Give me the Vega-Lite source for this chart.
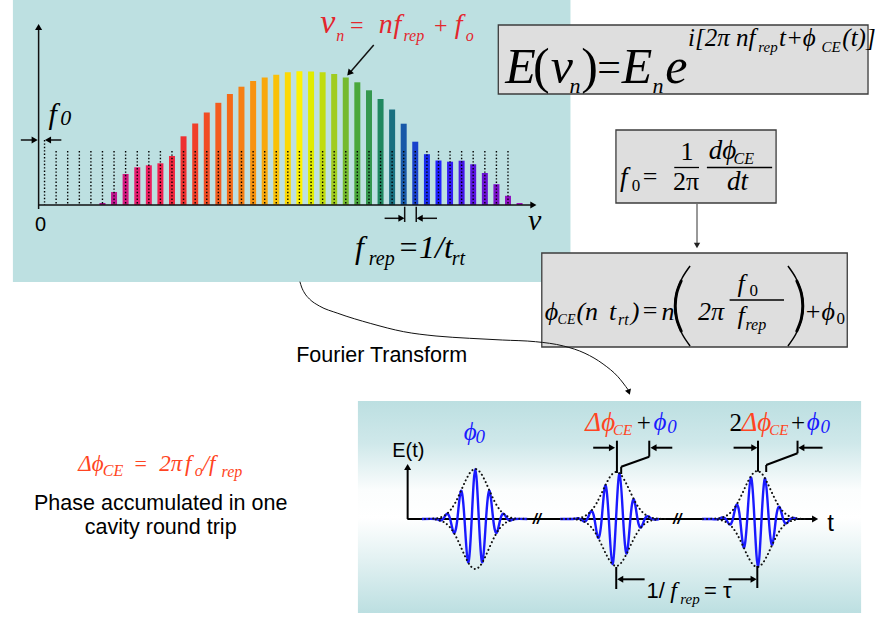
{
  "$schema": "https://vega.github.io/schema/vega-lite/v6.json",
  "width": 875,
  "height": 620,
  "autosize": {"type": "none"},
  "padding": 0,
  "background": "#ffffff",
  "config": {"view": {"stroke": null}},
  "encoding": {
    "x": {"field": "x", "type": "quantitative", "scale": {"domain": [0, 875], "nice": false, "zero": false}, "axis": null},
    "y": {"field": "y", "type": "quantitative", "scale": {"domain": [0, 620], "reverse": true, "nice": false, "zero": false}, "axis": null}
  },
  "layer": [
    {
      "data": {"values": [{"x": 8, "x2": 572, "y": 0, "y2": 282}]},
      "mark": {"type": "rect", "fill": "#bde0e1"},
      "encoding": {"x2": {"field": "x2"}, "y2": {"field": "y2"}}
    },
    {
      "data": {"values": [{"x": 357, "x2": 866, "y": 401, "y2": 613}]},
      "mark": {"type": "rect", "fill": {"gradient": "linear", "x1": 0, "y1": 0, "x2": 0, "y2": 1, "stops": [
        {"offset": 0, "color": "#bcdfe1"},
        {"offset": 0.2, "color": "#cfe8ea"},
        {"offset": 0.42, "color": "#fbfdfd"},
        {"offset": 0.55, "color": "#ffffff"},
        {"offset": 0.75, "color": "#e2f1f2"},
        {"offset": 1, "color": "#bcdfe1"}
      ]}},
      "encoding": {"x2": {"field": "x2"}, "y2": {"field": "y2"}}
    },
    {
      "data": {"values": [
        {"x": 499, "x2": 873, "y": 25, "y2": 94},
        {"x": 618, "x2": 780, "y": 130, "y2": 203},
        {"x": 543, "x2": 852, "y": 253, "y2": 347}
      ]},
      "mark": {"type": "rect", "fill": "#dedede", "stroke": "#3c3c3c", "strokeWidth": 1.3},
      "encoding": {"x2": {"field": "x2"}, "y2": {"field": "y2"}}
    },
    {
      "data": {"values": [
        {"x": 298.3, "y": 281.7}, {"x": 300, "y": 287}, {"x": 303, "y": 293}, {"x": 308, "y": 299},
        {"x": 318, "y": 306}, {"x": 336.7, "y": 313.3}, {"x": 370, "y": 323.5}, {"x": 403.3, "y": 331.7},
        {"x": 436, "y": 336}, {"x": 470, "y": 338.3}, {"x": 503, "y": 340}, {"x": 536.7, "y": 341.7},
        {"x": 565, "y": 346}, {"x": 586.7, "y": 353.3}, {"x": 605, "y": 364}, {"x": 620, "y": 376.7},
        {"x": 630.5, "y": 390}
      ]},
      "mark": {"type": "line", "interpolate": "monotone", "color": "#111111", "strokeWidth": 1},
      "encoding": {}
    },
    {
      "data": {"values": [
        {"n": 5, "x": 98.6, "y": 203}, {"n": 6, "x": 110.3, "y": 192}, {"n": 7, "x": 122, "y": 174},
        {"n": 8, "x": 133.8, "y": 167.3}, {"n": 9, "x": 145.5, "y": 165.3}, {"n": 10, "x": 157.2, "y": 163.3},
        {"n": 11, "x": 168.9, "y": 156}, {"n": 12, "x": 180.6, "y": 136.3}, {"n": 13, "x": 192.4, "y": 123.5},
        {"n": 14, "x": 204.1, "y": 112.5}, {"n": 15, "x": 215.8, "y": 102.8}, {"n": 16, "x": 227.5, "y": 94},
        {"n": 17, "x": 239.2, "y": 86.7}, {"n": 18, "x": 251, "y": 81}, {"n": 19, "x": 262.7, "y": 77.5},
        {"n": 20, "x": 274.4, "y": 74.7}, {"n": 21, "x": 286.1, "y": 72.3}, {"n": 22, "x": 297.8, "y": 71.3},
        {"n": 23, "x": 309.6, "y": 71.5}, {"n": 24, "x": 321.3, "y": 72.3}, {"n": 25, "x": 333, "y": 74},
        {"n": 26, "x": 344.7, "y": 77.5}, {"n": 27, "x": 356.4, "y": 82.3}, {"n": 28, "x": 368.2, "y": 90.3},
        {"n": 29, "x": 379.9, "y": 99}, {"n": 30, "x": 391.6, "y": 109.5}, {"n": 31, "x": 403.3, "y": 123.7},
        {"n": 32, "x": 415, "y": 141.7}, {"n": 33, "x": 426.8, "y": 154.2}, {"n": 34, "x": 438.5, "y": 160.5},
        {"n": 35, "x": 450.2, "y": 161.7}, {"n": 36, "x": 461.9, "y": 160.7}, {"n": 37, "x": 473.6, "y": 164.3},
        {"n": 38, "x": 485.4, "y": 173}, {"n": 39, "x": 497.1, "y": 184.2}, {"n": 40, "x": 508.8, "y": 195.8},
        {"n": 41, "x": 520.5, "y": 203}
      ]},
      "mark": {"type": "bar", "size": 6},
      "encoding": {
        "y2": {"datum": 205},
        "color": {"field": "n", "type": "quantitative", "legend": null, "scale": {
          "domain": [5, 6, 8, 10, 12, 16, 19, 22, 23, 25, 27, 29, 30, 31, 33, 34, 37, 41],
          "range": ["#a8108c", "#c0168f", "#e81c70", "#f02050", "#ee3030", "#f46a18", "#f8a80c", "#fff200", "#e0ec00", "#a0cc20", "#4aa83c", "#208860", "#1a7080", "#1858a8", "#1a2cf0", "#2020ff", "#5a14e0", "#a010b8"],
          "interpolate": "rgb"
        }}
      }
    },
    {
      "data": {"values": [
        {"x": 40, "y": 140}, {"x": 51.7, "y": 151}, {"x": 63.4, "y": 151}, {"x": 75.2, "y": 151}, {"x": 86.9, "y": 151},
        {"x": 98.6, "y": 151}, {"x": 110.3, "y": 151}, {"x": 122, "y": 151}, {"x": 133.8, "y": 151}, {"x": 145.5, "y": 151},
        {"x": 157.2, "y": 151}, {"x": 168.9, "y": 151}, {"x": 180.6, "y": 151}, {"x": 192.4, "y": 151}, {"x": 204.1, "y": 151},
        {"x": 215.8, "y": 151}, {"x": 227.5, "y": 151}, {"x": 239.2, "y": 151}, {"x": 251, "y": 151}, {"x": 262.7, "y": 151},
        {"x": 274.4, "y": 151}, {"x": 286.1, "y": 151}, {"x": 297.8, "y": 151}, {"x": 309.6, "y": 151}, {"x": 321.3, "y": 151},
        {"x": 333, "y": 151}, {"x": 344.7, "y": 151}, {"x": 356.4, "y": 151}, {"x": 368.2, "y": 151}, {"x": 379.9, "y": 151},
        {"x": 391.6, "y": 151}, {"x": 403.3, "y": 151}, {"x": 415, "y": 151}, {"x": 426.8, "y": 151}, {"x": 438.5, "y": 151},
        {"x": 450.2, "y": 151}, {"x": 461.9, "y": 151}, {"x": 473.6, "y": 151}, {"x": 485.4, "y": 151}, {"x": 497.1, "y": 151},
        {"x": 508.8, "y": 151}
      ]},
      "mark": {"type": "rule", "color": "#000000", "strokeWidth": 1.4, "strokeDash": [1.4, 2]},
      "encoding": {"y2": {"datum": 205}}
    },
    {
      "data": {"values": [
        {"x": 34, "y": 209, "x2": 34, "y2": 30},
        {"x": 34, "y": 205, "x2": 533, "y2": 205},
        {"x": 16, "y": 140, "x2": 29, "y2": 140},
        {"x": 57, "y": 140, "x2": 44, "y2": 140},
        {"x": 384, "y": 218.3, "x2": 400, "y2": 218.3},
        {"x": 437, "y": 218.3, "x2": 420, "y2": 218.3},
        {"x": 404.3, "y": 206.7, "x2": 404.3, "y2": 222},
        {"x": 416, "y": 206.7, "x2": 416, "y2": 222},
        {"x": 373, "y": 45, "x2": 349, "y2": 72.4}
      ]},
      "mark": {"type": "rule", "color": "#111111", "strokeWidth": 1.5},
      "encoding": {"x2": {"field": "x2"}, "y2": {"field": "y2"}}
    },
    {
      "data": {"values": [{"x": 700, "y": 204, "x2": 700, "y2": 244}]},
      "mark": {"type": "rule", "color": "#333333", "strokeWidth": 1},
      "encoding": {"x2": {"field": "x2"}, "y2": {"field": "y2"}}
    },
    {
      "data": {"values": [
        {"x": 407.3, "y": 519, "x2": 407.3, "y2": 470},
        {"x": 407, "y": 519, "x2": 818, "y2": 519}
      ]},
      "mark": {"type": "rule", "color": "#000000", "strokeWidth": 2},
      "encoding": {"x2": {"field": "x2"}, "y2": {"field": "y2"}}
    },
    {
      "data": {"values": [
        {"p": 1, "x": 421.7, "y": 519}, {"p": 1, "x": 435.8, "y": 519}, {"p": 1, "x": 439.45, "y": 520.4}, {"p": 1, "x": 443.1, "y": 519},
        {"p": 1, "x": 446.7, "y": 514}, {"p": 1, "x": 450.3, "y": 519}, {"p": 1, "x": 453.95, "y": 532.7}, {"p": 1, "x": 457.6, "y": 519},
        {"p": 1, "x": 461.2, "y": 490.9}, {"p": 1, "x": 464.8, "y": 519}, {"p": 1, "x": 468.45, "y": 562.3}, {"p": 1, "x": 472.1, "y": 519},
        {"p": 1, "x": 475.7, "y": 469}, {"p": 1, "x": 479.3, "y": 519}, {"p": 1, "x": 482.95, "y": 562.3}, {"p": 1, "x": 486.6, "y": 519},
        {"p": 1, "x": 490.2, "y": 490.9}, {"p": 1, "x": 493.8, "y": 519}, {"p": 1, "x": 497.45, "y": 532.7}, {"p": 1, "x": 501.1, "y": 519},
        {"p": 1, "x": 504.7, "y": 514}, {"p": 1, "x": 508.3, "y": 519}, {"p": 1, "x": 511.95, "y": 520.4}, {"p": 1, "x": 515.6, "y": 519},
        {"p": 1, "x": 528.3, "y": 519},
        {"p": 2, "x": 561.7, "y": 519}, {"p": 2, "x": 574.6, "y": 519}, {"p": 2, "x": 578.2, "y": 518.4}, {"p": 2, "x": 581.8, "y": 519},
        {"p": 2, "x": 585.45, "y": 521.4}, {"p": 2, "x": 589.1, "y": 519}, {"p": 2, "x": 592.7, "y": 511.2}, {"p": 2, "x": 596.3, "y": 519},
        {"p": 2, "x": 599.95, "y": 537.7}, {"p": 2, "x": 603.6, "y": 519}, {"p": 2, "x": 607.2, "y": 485.5}, {"p": 2, "x": 610.8, "y": 519},
        {"p": 2, "x": 614.45, "y": 564.1}, {"p": 2, "x": 618.1, "y": 519}, {"p": 2, "x": 621.7, "y": 473.5}, {"p": 2, "x": 625.3, "y": 519},
        {"p": 2, "x": 628.95, "y": 553.4}, {"p": 2, "x": 632.6, "y": 519}, {"p": 2, "x": 636.2, "y": 499.5}, {"p": 2, "x": 639.8, "y": 519},
        {"p": 2, "x": 643.45, "y": 527.3}, {"p": 2, "x": 647.1, "y": 519}, {"p": 2, "x": 650.7, "y": 516.4}, {"p": 2, "x": 654.3, "y": 519},
        {"p": 2, "x": 657.95, "y": 519.6}, {"p": 2, "x": 661.6, "y": 519},
        {"p": 3, "x": 705, "y": 519}, {"p": 3, "x": 714.6, "y": 519}, {"p": 3, "x": 718.2, "y": 519.3}, {"p": 3, "x": 721.8, "y": 519},
        {"p": 3, "x": 725.45, "y": 517.5}, {"p": 3, "x": 729.1, "y": 519}, {"p": 3, "x": 732.7, "y": 524.3}, {"p": 3, "x": 736.3, "y": 519},
        {"p": 3, "x": 739.95, "y": 504.8}, {"p": 3, "x": 743.6, "y": 519}, {"p": 3, "x": 747.2, "y": 547.5}, {"p": 3, "x": 750.8, "y": 519},
        {"p": 3, "x": 754.45, "y": 477.5}, {"p": 3, "x": 758.1, "y": 519}, {"p": 3, "x": 761.7, "y": 566.9}, {"p": 3, "x": 765.3, "y": 519},
        {"p": 3, "x": 768.95, "y": 478.6}, {"p": 3, "x": 772.6, "y": 519}, {"p": 3, "x": 776.2, "y": 544.5}, {"p": 3, "x": 779.8, "y": 519},
        {"p": 3, "x": 783.45, "y": 507}, {"p": 3, "x": 787.1, "y": 519}, {"p": 3, "x": 790.7, "y": 523.3}, {"p": 3, "x": 794.3, "y": 519},
        {"p": 3, "x": 797.95, "y": 517.9}, {"p": 3, "x": 801.6, "y": 519}
      ]},
      "mark": {"type": "line", "interpolate": "natural", "color": "#1a1aff", "strokeWidth": 2.4},
      "encoding": {"detail": {"field": "p"}}
    },
    {
      "data": {"values": [
        {"s": "1u", "x": 420.7, "y": 519}, {"s": "1u", "x": 435.7, "y": 518.4}, {"s": "1u", "x": 440.7, "y": 517.3}, {"s": "1u", "x": 445.7, "y": 514.8},
        {"s": "1u", "x": 450.7, "y": 510}, {"s": "1u", "x": 455.7, "y": 502.3}, {"s": "1u", "x": 460.7, "y": 492}, {"s": "1u", "x": 465.7, "y": 481},
        {"s": "1u", "x": 470.7, "y": 472.3}, {"s": "1u", "x": 475.7, "y": 469}, {"s": "1u", "x": 480.7, "y": 472.3}, {"s": "1u", "x": 485.7, "y": 481},
        {"s": "1u", "x": 490.7, "y": 492}, {"s": "1u", "x": 495.7, "y": 502.3}, {"s": "1u", "x": 500.7, "y": 510}, {"s": "1u", "x": 505.7, "y": 514.8},
        {"s": "1u", "x": 510.7, "y": 517.3}, {"s": "1u", "x": 515.7, "y": 518.4}, {"s": "1u", "x": 530.7, "y": 519},
        {"s": "1l", "x": 435.7, "y": 519.6}, {"s": "1l", "x": 440.7, "y": 520.7}, {"s": "1l", "x": 445.7, "y": 523.2},
        {"s": "1l", "x": 450.7, "y": 528}, {"s": "1l", "x": 455.7, "y": 535.7}, {"s": "1l", "x": 460.7, "y": 546}, {"s": "1l", "x": 465.7, "y": 557},
        {"s": "1l", "x": 470.7, "y": 565.7}, {"s": "1l", "x": 475.7, "y": 569}, {"s": "1l", "x": 480.7, "y": 565.7}, {"s": "1l", "x": 485.7, "y": 557},
        {"s": "1l", "x": 490.7, "y": 546}, {"s": "1l", "x": 495.7, "y": 535.7}, {"s": "1l", "x": 500.7, "y": 528}, {"s": "1l", "x": 505.7, "y": 523.2},
        {"s": "1l", "x": 510.7, "y": 520.7}, {"s": "1l", "x": 515.7, "y": 519.6},
        {"s": "2u", "x": 563.3, "y": 519}, {"s": "2u", "x": 578.3, "y": 518.4}, {"s": "2u", "x": 583.3, "y": 517.4}, {"s": "2u", "x": 588.3, "y": 515},
        {"s": "2u", "x": 593.3, "y": 510.5}, {"s": "2u", "x": 598.3, "y": 503.3}, {"s": "2u", "x": 603.3, "y": 493.6}, {"s": "2u", "x": 608.3, "y": 483.3},
        {"s": "2u", "x": 613.3, "y": 475.1}, {"s": "2u", "x": 618.3, "y": 472}, {"s": "2u", "x": 623.3, "y": 475.1}, {"s": "2u", "x": 628.3, "y": 483.3},
        {"s": "2u", "x": 633.3, "y": 493.6}, {"s": "2u", "x": 638.3, "y": 503.3}, {"s": "2u", "x": 643.3, "y": 510.5}, {"s": "2u", "x": 648.3, "y": 515},
        {"s": "2u", "x": 653.3, "y": 517.4}, {"s": "2u", "x": 658.3, "y": 518.4}, {"s": "2u", "x": 668.3, "y": 519},
        {"s": "2l", "x": 578.3, "y": 519.6}, {"s": "2l", "x": 583.3, "y": 520.6}, {"s": "2l", "x": 588.3, "y": 523},
        {"s": "2l", "x": 593.3, "y": 527.5}, {"s": "2l", "x": 598.3, "y": 534.7}, {"s": "2l", "x": 603.3, "y": 544.4}, {"s": "2l", "x": 608.3, "y": 554.7},
        {"s": "2l", "x": 613.3, "y": 562.9}, {"s": "2l", "x": 618.3, "y": 566}, {"s": "2l", "x": 623.3, "y": 562.9}, {"s": "2l", "x": 628.3, "y": 554.7},
        {"s": "2l", "x": 633.3, "y": 544.4}, {"s": "2l", "x": 638.3, "y": 534.7}, {"s": "2l", "x": 643.3, "y": 527.5}, {"s": "2l", "x": 648.3, "y": 523},
        {"s": "2l", "x": 653.3, "y": 520.6}, {"s": "2l", "x": 658.3, "y": 519.6},
        {"s": "3u", "x": 706, "y": 519}, {"s": "3u", "x": 721, "y": 518.4}, {"s": "3u", "x": 726, "y": 517.3}, {"s": "3u", "x": 731, "y": 514.9},
        {"s": "3u", "x": 736, "y": 510.4}, {"s": "3u", "x": 741, "y": 503}, {"s": "3u", "x": 746, "y": 493.1}, {"s": "3u", "x": 751, "y": 482.5},
        {"s": "3u", "x": 756, "y": 474.2}, {"s": "3u", "x": 761, "y": 471}, {"s": "3u", "x": 766, "y": 474.2}, {"s": "3u", "x": 771, "y": 482.5},
        {"s": "3u", "x": 776, "y": 493.1}, {"s": "3u", "x": 781, "y": 503}, {"s": "3u", "x": 786, "y": 510.4}, {"s": "3u", "x": 791, "y": 514.9},
        {"s": "3u", "x": 796, "y": 517.3}, {"s": "3u", "x": 801, "y": 518.4}, {"s": "3u", "x": 811, "y": 519},
        {"s": "3l", "x": 721, "y": 519.6}, {"s": "3l", "x": 726, "y": 520.7}, {"s": "3l", "x": 731, "y": 523.1},
        {"s": "3l", "x": 736, "y": 527.6}, {"s": "3l", "x": 741, "y": 535}, {"s": "3l", "x": 746, "y": 544.9}, {"s": "3l", "x": 751, "y": 555.5},
        {"s": "3l", "x": 756, "y": 563.8}, {"s": "3l", "x": 761, "y": 567}, {"s": "3l", "x": 766, "y": 563.8}, {"s": "3l", "x": 771, "y": 555.5},
        {"s": "3l", "x": 776, "y": 544.9}, {"s": "3l", "x": 781, "y": 535}, {"s": "3l", "x": 786, "y": 527.6}, {"s": "3l", "x": 791, "y": 523.1},
        {"s": "3l", "x": 796, "y": 520.7}, {"s": "3l", "x": 801, "y": 519.6}
      ]},
      "mark": {"type": "line", "interpolate": "monotone", "color": "#111111", "strokeWidth": 2, "strokeCap": "round", "strokeDash": [0.1, 4]},
      "encoding": {"detail": {"field": "s"}}
    },
    {
      "data": {"values": [
        {"x": 595, "y": 447.7, "x2": 613, "y2": 447.7},
        {"x": 619, "y": 440.7, "x2": 619, "y2": 473},
        {"x": 651.7, "y": 440.7, "x2": 651.7, "y2": 456.7},
        {"x": 651.7, "y": 456.7, "x2": 623.3, "y2": 466.7},
        {"x": 623.3, "y": 466.7, "x2": 623.3, "y2": 474},
        {"x": 675, "y": 447.7, "x2": 657, "y2": 447.7},
        {"x": 737, "y": 447.7, "x2": 757, "y2": 447.7},
        {"x": 761.7, "y": 440.7, "x2": 761.7, "y2": 471.7},
        {"x": 801.7, "y": 440.7, "x2": 801.7, "y2": 453.3},
        {"x": 801.7, "y": 453.3, "x2": 770, "y2": 465},
        {"x": 770, "y": 465, "x2": 770, "y2": 472},
        {"x": 827, "y": 447.7, "x2": 806, "y2": 447.7},
        {"x": 618.3, "y": 567, "x2": 618.3, "y2": 589},
        {"x": 761, "y": 566, "x2": 761, "y2": 588},
        {"x": 647, "y": 579.3, "x2": 623, "y2": 579.3},
        {"x": 732, "y": 579.3, "x2": 756, "y2": 579.3}
      ]},
      "mark": {"type": "rule", "color": "#000000", "strokeWidth": 2},
      "encoding": {"x2": {"field": "x2"}, "y2": {"field": "y2"}}
    },
    {
      "data": {"values": [{"x": 34, "y": 27}, {"x": 407.3, "y": 467}]},
      "mark": {"type": "point", "shape": "triangle-up", "filled": true, "size": 50, "color": "#000000", "opacity": 1},
      "encoding": {}
    },
    {
      "data": {"values": [
        {"x": 534.5, "y": 205}, {"x": 30, "y": 140}, {"x": 401, "y": 218.3}, {"x": 819.5, "y": 519},
        {"x": 614, "y": 447.7}, {"x": 758, "y": 447.7}, {"x": 757.3, "y": 579.3}
      ]},
      "mark": {"type": "point", "shape": "triangle-right", "filled": true, "size": 50, "color": "#000000", "opacity": 1},
      "encoding": {}
    },
    {
      "data": {"values": [
        {"x": 43.5, "y": 140}, {"x": 419.5, "y": 218.3}, {"x": 656, "y": 447.7}, {"x": 805.5, "y": 447.7}, {"x": 622.3, "y": 579.3}
      ]},
      "mark": {"type": "point", "shape": "triangle-left", "filled": true, "size": 50, "color": "#000000", "opacity": 1},
      "encoding": {}
    },
    {
      "data": {"values": [{"x": 700, "y": 245.5}]},
      "mark": {"type": "point", "shape": "triangle-down", "filled": true, "size": 40, "color": "#222222", "opacity": 1},
      "encoding": {}
    },
    {
      "data": {"values": [{"x": 348.9, "y": 72.4}]},
      "mark": {"type": "point", "shape": "triangle", "angle": 221, "filled": true, "size": 50, "color": "#000000", "opacity": 1},
      "encoding": {}
    },
    {
      "data": {"values": [{"x": 630.8, "y": 391.3}]},
      "mark": {"type": "point", "shape": "triangle", "angle": 160, "filled": true, "size": 40, "color": "#000000", "opacity": 1},
      "encoding": {}
    },
    {
      "data": {"values": [{"x": 538, "y": 519, "t": "//"}, {"x": 680, "y": 519, "t": "//"}]},
      "mark": {"type": "text", "font": "Liberation Sans", "fontSize": 15, "fontWeight": "bold", "fontStyle": "italic", "align": "center", "baseline": "middle", "color": "#000000"},
      "encoding": {"text": {"field": "t"}}
    },
    {
      "data": {"values": [
        {"x": 36, "y": 231, "t": "0"},
        {"x": 408, "y": 457, "t": "E(t)"}
      ]},
      "mark": {"type": "text", "font": "Liberation Sans", "fontSize": 20, "align": "center", "baseline": "alphabetic", "color": "#000000"},
      "encoding": {"text": {"field": "t"}}
    },
    {
      "data": {"values": [
        {"x": 381, "y": 362, "t": "Fourier Transform"},
        {"x": 157.5, "y": 510, "t": "Phase accumulated in one"},
        {"x": 157.5, "y": 534, "t": "cavity round trip"}
      ]},
      "mark": {"type": "text", "font": "Liberation Sans", "fontSize": 21.5, "align": "center", "baseline": "alphabetic", "color": "#000000"},
      "encoding": {"text": {"field": "t"}}
    },
    {
      "data": {"values": [{"x": 835, "y": 531, "t": "t"}]},
      "mark": {"type": "text", "font": "Liberation Sans", "fontSize": 24, "align": "center", "baseline": "alphabetic", "color": "#000000"},
      "encoding": {"text": {"field": "t"}}
    },
    {
      "data": {"values": [{"x": 649, "y": 598, "t": "1/"}, {"x": 707, "y": 598, "t": "= τ"}]},
      "mark": {"type": "text", "font": "Liberation Sans", "fontSize": 22, "align": "left", "baseline": "alphabetic", "color": "#000000"},
      "encoding": {"text": {"field": "t"}}
    },
    {
      "data": {"values": [{"x": 673, "y": 598, "t": "f"}]},
      "mark": {"type": "text", "font": "Liberation Serif", "fontSize": 24, "fontStyle": "italic", "align": "left", "baseline": "alphabetic", "color": "#000000"},
      "encoding": {"text": {"field": "t"}}
    },
    {
      "data": {"values": [{"x": 683, "y": 604, "t": "rep"}]},
      "mark": {"type": "text", "font": "Liberation Serif", "fontSize": 15, "fontStyle": "italic", "align": "left", "baseline": "alphabetic", "color": "#000000"},
      "encoding": {"text": {"field": "t"}}
    },
    {
      "data": {"values": [{"x": 44, "y": 124, "t": "f"}, {"x": 529, "y": 230, "t": "ν"}]},
      "mark": {"type": "text", "font": "Liberation Serif", "fontSize": 30, "fontStyle": "italic", "align": "left", "baseline": "alphabetic", "color": "#000000"},
      "encoding": {"text": {"field": "t"}}
    },
    {
      "data": {"values": [{"x": 56, "y": 125, "t": "0"}]},
      "mark": {"type": "text", "font": "Liberation Serif", "fontSize": 22, "fontStyle": "italic", "align": "left", "baseline": "alphabetic", "color": "#000000"},
      "encoding": {"text": {"field": "t"}}
    },
    {
      "data": {"values": [{"x": 354, "y": 258, "t": "f"}, {"x": 397, "y": 258, "t": "=1/t"}]},
      "mark": {"type": "text", "font": "Liberation Serif", "fontSize": 32, "fontStyle": "italic", "align": "left", "baseline": "alphabetic", "color": "#000000"},
      "encoding": {"text": {"field": "t"}}
    },
    {
      "data": {"values": [{"x": 368, "y": 265, "t": "rep"}, {"x": 452, "y": 265, "t": "rt"}]},
      "mark": {"type": "text", "font": "Liberation Serif", "fontSize": 20, "fontStyle": "italic", "align": "left", "baseline": "alphabetic", "color": "#000000"},
      "encoding": {"text": {"field": "t"}}
    },
    {
      "data": {"values": [{"x": 319, "y": 33, "t": "ν"}]},
      "mark": {"type": "text", "font": "Liberation Serif", "fontSize": 34, "fontStyle": "italic", "align": "left", "baseline": "alphabetic", "color": "#e3262d"},
      "encoding": {"text": {"field": "t"}}
    },
    {
      "data": {"values": [{"x": 378, "y": 33, "t": "n"}, {"x": 393, "y": 33, "t": "f"}, {"x": 455, "y": 33, "t": "f"}]},
      "mark": {"type": "text", "font": "Liberation Serif", "fontSize": 28, "fontStyle": "italic", "align": "left", "baseline": "alphabetic", "color": "#e3262d"},
      "encoding": {"text": {"field": "t"}}
    },
    {
      "data": {"values": [{"x": 335, "y": 41, "t": "n"}, {"x": 403, "y": 41, "t": "rep"}, {"x": 466, "y": 41, "t": "o"}]},
      "mark": {"type": "text", "font": "Liberation Serif", "fontSize": 16, "fontStyle": "italic", "align": "left", "baseline": "alphabetic", "color": "#e3262d"},
      "encoding": {"text": {"field": "t"}}
    },
    {
      "data": {"values": [{"x": 349, "y": 33, "t": "="}, {"x": 434, "y": 33, "t": "+"}]},
      "mark": {"type": "text", "font": "Liberation Serif", "fontSize": 24, "align": "left", "baseline": "alphabetic", "color": "#e3262d"},
      "encoding": {"text": {"field": "t"}}
    },
    {
      "data": {"values": [{"x": 74, "y": 471, "t": "Δϕ"}, {"x": 156, "y": 471, "t": "2π"}, {"x": 182, "y": 471, "t": "f"}, {"x": 200, "y": 471, "t": "/f"}]},
      "mark": {"type": "text", "font": "Liberation Serif", "fontSize": 23, "fontStyle": "italic", "align": "left", "baseline": "alphabetic", "color": "#ff4422"},
      "encoding": {"text": {"field": "t"}}
    },
    {
      "data": {"values": [{"x": 99, "y": 476, "t": "CE"}, {"x": 192, "y": 476, "t": "o"}, {"x": 219, "y": 477, "t": "rep"}]},
      "mark": {"type": "text", "font": "Liberation Serif", "fontSize": 16, "fontStyle": "italic", "align": "left", "baseline": "alphabetic", "color": "#ff4422"},
      "encoding": {"text": {"field": "t"}}
    },
    {
      "data": {"values": [{"x": 131, "y": 471, "t": "="}]},
      "mark": {"type": "text", "font": "Liberation Serif", "fontSize": 22, "align": "left", "baseline": "alphabetic", "color": "#ff4422"},
      "encoding": {"text": {"field": "t"}}
    },
    {
      "data": {"values": [{"x": 464, "y": 440, "t": "ϕ"}, {"x": 656, "y": 430, "t": "ϕ"}, {"x": 811, "y": 430, "t": "ϕ"}]},
      "mark": {"type": "text", "font": "Liberation Serif", "fontSize": 25, "fontStyle": "italic", "align": "left", "baseline": "alphabetic", "color": "#1a1aff"},
      "encoding": {"text": {"field": "t"}}
    },
    {
      "data": {"values": [{"x": 476, "y": 443, "t": "0"}, {"x": 670, "y": 433, "t": "0"}, {"x": 825, "y": 433, "t": "0"}]},
      "mark": {"type": "text", "font": "Liberation Serif", "fontSize": 19, "fontStyle": "italic", "align": "left", "baseline": "alphabetic", "color": "#1a1aff"},
      "encoding": {"text": {"field": "t"}}
    },
    {
      "data": {"values": [{"x": 587, "y": 431, "t": "Δϕ"}, {"x": 745, "y": 431, "t": "Δϕ"}]},
      "mark": {"type": "text", "font": "Liberation Serif", "fontSize": 27, "fontStyle": "italic", "align": "left", "baseline": "alphabetic", "color": "#ff4422"},
      "encoding": {"text": {"field": "t"}}
    },
    {
      "data": {"values": [{"x": 615, "y": 435, "t": "CE"}, {"x": 773, "y": 435, "t": "CE"}]},
      "mark": {"type": "text", "font": "Liberation Serif", "fontSize": 15, "fontStyle": "italic", "align": "left", "baseline": "alphabetic", "color": "#ff4422"},
      "encoding": {"text": {"field": "t"}}
    },
    {
      "data": {"values": [{"x": 639, "y": 431, "t": "+"}, {"x": 795, "y": 431, "t": "+"}, {"x": 733, "y": 431, "t": "2"}]},
      "mark": {"type": "text", "font": "Liberation Serif", "fontSize": 25, "align": "left", "baseline": "alphabetic", "color": "#000000"},
      "encoding": {"text": {"field": "t"}}
    },
    {
      "data": {"values": [{"x": 506, "y": 83, "t": "E"}, {"x": 552, "y": 83, "t": "ν"}, {"x": 624, "y": 83, "t": "E"}, {"x": 668, "y": 83, "t": "e"}]},
      "mark": {"type": "text", "font": "Liberation Serif", "fontSize": 50, "fontStyle": "italic", "align": "left", "baseline": "alphabetic", "color": "#000000"},
      "encoding": {"text": {"field": "t"}}
    },
    {
      "data": {"values": [{"x": 534, "y": 83, "t": "("}, {"x": 583, "y": 83, "t": ")"}]},
      "mark": {"type": "text", "font": "Liberation Serif", "fontSize": 50, "align": "left", "baseline": "alphabetic", "color": "#000000"},
      "encoding": {"text": {"field": "t"}}
    },
    {
      "data": {"values": [{"x": 599, "y": 81, "t": "="}]},
      "mark": {"type": "text", "font": "Liberation Serif", "fontSize": 42, "align": "left", "baseline": "alphabetic", "color": "#000000"},
      "encoding": {"text": {"field": "t"}}
    },
    {
      "data": {"values": [{"x": 571, "y": 93, "t": "n"}, {"x": 655, "y": 93, "t": "n"}]},
      "mark": {"type": "text", "font": "Liberation Serif", "fontSize": 22, "fontStyle": "italic", "align": "left", "baseline": "alphabetic", "color": "#000000"},
      "encoding": {"text": {"field": "t"}}
    },
    {
      "data": {"values": [{"x": 691, "y": 46, "t": "i[2π nf"}, {"x": 783, "y": 46, "t": "t+ϕ"}, {"x": 847, "y": 46, "t": "(t)]"}]},
      "mark": {"type": "text", "font": "Liberation Serif", "fontSize": 25, "fontStyle": "italic", "align": "left", "baseline": "alphabetic", "color": "#000000"},
      "encoding": {"text": {"field": "t"}}
    },
    {
      "data": {"values": [{"x": 762, "y": 52, "t": "rep"}, {"x": 826, "y": 52, "t": "CE"}]},
      "mark": {"type": "text", "font": "Liberation Serif", "fontSize": 15, "fontStyle": "italic", "align": "left", "baseline": "alphabetic", "color": "#000000"},
      "encoding": {"text": {"field": "t"}}
    },
    {
      "data": {"values": [
        {"x": 677, "y": 167.5, "x2": 702, "y2": 167.5},
        {"x": 710, "y": 167.5, "x2": 776, "y2": 167.5},
        {"x": 733, "y": 300, "x2": 788, "y2": 300}
      ]},
      "mark": {"type": "rule", "color": "#000000", "strokeWidth": 1.3},
      "encoding": {"x2": {"field": "x2"}, "y2": {"field": "y2"}}
    },
    {
      "data": {"values": [{"x": 622, "y": 186, "t": "f"}, {"x": 712, "y": 159, "t": "dϕ"}]},
      "mark": {"type": "text", "font": "Liberation Serif", "fontSize": 27, "fontStyle": "italic", "align": "left", "baseline": "alphabetic", "color": "#000000"},
      "encoding": {"text": {"field": "t"}}
    },
    {
      "data": {"values": [{"x": 741, "y": 190, "t": "dt"}]},
      "mark": {"type": "text", "font": "Liberation Serif", "fontSize": 27, "fontStyle": "italic", "align": "center", "baseline": "alphabetic", "color": "#000000"},
      "encoding": {"text": {"field": "t"}}
    },
    {
      "data": {"values": [{"x": 690, "y": 160, "t": "1"}, {"x": 689, "y": 190, "t": "2π"}]},
      "mark": {"type": "text", "font": "Liberation Serif", "fontSize": 26, "align": "center", "baseline": "alphabetic", "color": "#000000"},
      "encoding": {"text": {"field": "t"}}
    },
    {
      "data": {"values": [{"x": 645, "y": 185, "t": "="}, {"x": 645, "y": 319, "t": "="}, {"x": 810, "y": 320, "t": "+"}]},
      "mark": {"type": "text", "font": "Liberation Serif", "fontSize": 26, "align": "left", "baseline": "alphabetic", "color": "#000000"},
      "encoding": {"text": {"field": "t"}}
    },
    {
      "data": {"values": [{"x": 634, "y": 191, "t": "0"}, {"x": 753, "y": 296, "t": "0"}, {"x": 841, "y": 324, "t": "0"}]},
      "mark": {"type": "text", "font": "Liberation Serif", "fontSize": 17, "align": "left", "baseline": "alphabetic", "color": "#000000"},
      "encoding": {"text": {"field": "t"}}
    },
    {
      "data": {"values": [{"x": 737, "y": 164, "t": "CE"}, {"x": 749, "y": 330, "t": "rep"}, {"x": 620, "y": 325, "t": "rt"}]},
      "mark": {"type": "text", "font": "Liberation Serif", "fontSize": 16, "fontStyle": "italic", "align": "left", "baseline": "alphabetic", "color": "#000000"},
      "encoding": {"text": {"field": "t"}}
    },
    {
      "data": {"values": [{"x": 559, "y": 324, "t": "CE"}]},
      "mark": {"type": "text", "font": "Liberation Serif", "fontSize": 14, "fontStyle": "italic", "align": "left", "baseline": "alphabetic", "color": "#000000"},
      "encoding": {"text": {"field": "t"}}
    },
    {
      "data": {"values": [
        {"x": 546, "y": 320, "t": "ϕ"}, {"x": 578, "y": 320, "t": "(n"}, {"x": 611, "y": 320, "t": "t"}, {"x": 633, "y": 320, "t": ")"},
        {"x": 664, "y": 320, "t": "n"}, {"x": 701, "y": 320, "t": "2π"}, {"x": 741, "y": 292, "t": "f"}, {"x": 741, "y": 324, "t": "f"},
        {"x": 826, "y": 320, "t": "ϕ"}
      ]},
      "mark": {"type": "text", "font": "Liberation Serif", "fontSize": 26, "fontStyle": "italic", "align": "left", "baseline": "alphabetic", "color": "#000000"},
      "encoding": {"text": {"field": "t"}}
    },
    {
      "data": {"values": [
        {"k": "L", "i": 0, "x": 693, "y": 266}, {"k": "L", "i": 1, "x": 685, "y": 278}, {"k": "L", "i": 2, "x": 679.5, "y": 292},
        {"k": "L", "i": 3, "x": 677.5, "y": 306}, {"k": "L", "i": 4, "x": 679.5, "y": 320}, {"k": "L", "i": 5, "x": 685, "y": 334},
        {"k": "L", "i": 6, "x": 693, "y": 346},
        {"k": "R", "i": 0, "x": 792, "y": 266}, {"k": "R", "i": 1, "x": 800, "y": 278}, {"k": "R", "i": 2, "x": 805.5, "y": 292},
        {"k": "R", "i": 3, "x": 807.5, "y": 306}, {"k": "R", "i": 4, "x": 805.5, "y": 320}, {"k": "R", "i": 5, "x": 800, "y": 334},
        {"k": "R", "i": 6, "x": 792, "y": 346}
      ]},
      "mark": {"type": "line", "interpolate": "cardinal", "color": "#000000", "strokeWidth": 1.5},
      "encoding": {"detail": {"field": "k"}, "order": {"field": "i"}}
    },
    {
      "data": {"values": [
        {"k": "L", "i": 1, "x": 684, "y": 281}, {"k": "L", "i": 2, "x": 679.5, "y": 293}, {"k": "L", "i": 3, "x": 678, "y": 306},
        {"k": "L", "i": 4, "x": 679.5, "y": 319}, {"k": "L", "i": 5, "x": 684, "y": 331},
        {"k": "R", "i": 1, "x": 801, "y": 281}, {"k": "R", "i": 2, "x": 805.5, "y": 293}, {"k": "R", "i": 3, "x": 807, "y": 306},
        {"k": "R", "i": 4, "x": 805.5, "y": 319}, {"k": "R", "i": 5, "x": 801, "y": 331}
      ]},
      "mark": {"type": "line", "interpolate": "cardinal", "color": "#000000", "strokeWidth": 3, "strokeCap": "round"},
      "encoding": {"detail": {"field": "k"}, "order": {"field": "i"}}
    }
  ]
}
